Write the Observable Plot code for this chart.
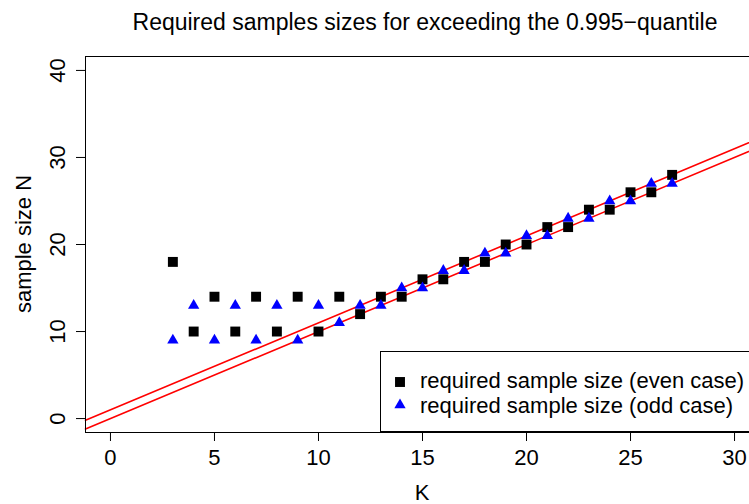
<!DOCTYPE html>
<html>
<head>
<meta charset="utf-8">
<script src="https://cdn.jsdelivr.net/npm/d3@7"></script>
<script src="https://cdn.jsdelivr.net/npm/@observablehq/plot@0.6"></script>
<style>
  html, body { margin: 0; padding: 0; background: #fff; }
  #chart { position: relative; width: 749px; height: 504px; overflow: hidden; }
  #chart svg { font-family: "Liberation Sans", Arial, Helvetica, sans-serif; max-width: none !important; }
</style>
</head>
<body>
<div id="chart"></div>
<script>
// ---- data ----
const K = [3,4,5,6,7,8,9,10,11,12,13,14,15,16,17,18,19,20,21,22,23,24,25,26,27];
const evenN = [18,10,14,10,14,10,14,10,14,12,14,14,16,16,18,18,20,20,22,22,24,24,26,26,28];
const oddN  = [9,13,9,13,9,13,9,13,11,13,13,15,15,17,17,19,19,21,21,23,23,25,25,27,27];
const lineIntercepts = [1, 0];
const lineSlope = 1;
const xTicks = [0,5,10,15,20,25,30];
const yTicks = [0,10,20,30,40];
const legendLabels = ["required sample size (even case)", "required sample size (odd case)"];
const titleText = "Required samples sizes for exceeding the 0.995\u2212quantile";
const xLabel = "K";
const yLabel = "sample size N";

// ---- tables ----
const xDomain = [-1.2, 31.2];
const yDomain = [-1.6, 41.6];
const evenData = K.map((k, i) => ({k, n: evenN[i]}));
const oddData = K.map((k, i) => ({k, n: oddN[i]}));
const lineData = lineIntercepts.flatMap((b, j) =>
  xDomain.map(x => ({x, y: b + lineSlope * x, id: j})));

const FONT = '"Liberation Sans", Arial, Helvetica, sans-serif';
const FS = 22;
const rSq = 5.6, rTri = 4.2;

const plot = Plot.plot({
  width: 759,
  height: 504,
  marginLeft: 85,
  marginRight: 0,
  marginTop: 56,
  marginBottom: 72,
  style: {fontFamily: FONT, fontSize: FS + "px", background: "white", maxWidth: "none"},
  x: {domain: xDomain},
  y: {domain: yDomain},
  marks: [
    Plot.line(lineData, {x: "x", y: "y", z: "id", stroke: "#ff0000", strokeWidth: 1.6}),
    Plot.dot(evenData, {x: "k", y: "n", symbol: "square", r: rSq, fill: "black", stroke: "none"}),
    Plot.dot(oddData, {x: "k", y: "n", symbol: "triangle", r: rTri, fill: "#0000ff", stroke: "none"}),
    Plot.frame({stroke: "black", strokeWidth: 1}),
    Plot.axisX({ticks: xTicks, tickSize: 9, tickPadding: 8, fontSize: FS, label: null, tickFormat: d => String(d), stroke: "black", fill: "black"}),
    Plot.axisY({ticks: yTicks, tickSize: 9, tickPadding: 0, fontSize: FS, label: null, tickFormat: () => "", stroke: "black"}),
    Plot.text(yTicks, {x: xDomain[0], y: d => d, text: d => String(d), rotate: -90, dx: -28, fontSize: FS, textAnchor: "middle", lineAnchor: "middle", fill: "black"})
  ]
});
plot.style.maxWidth = "none";
document.getElementById("chart").appendChild(plot);

const svg = d3.select(plot);
// Title
svg.append("text").attr("x", 425).attr("y", 30).attr("text-anchor", "middle")
  .attr("font-size", 23).attr("font-family", FONT).attr("fill", "black").text(titleText);
// Axis titles
svg.append("text").attr("x", 422).attr("y", 500).attr("text-anchor", "middle")
  .attr("font-size", FS).attr("font-family", FONT).attr("fill", "black").text(xLabel);
svg.append("text").attr("transform", "translate(31,244) rotate(-90)").attr("text-anchor", "middle")
  .attr("font-size", FS).attr("font-family", FONT).attr("fill", "black").text(yLabel);

// Legend
const lg = svg.append("g");
lg.append("rect").attr("x", 380.5).attr("y", 351.5).attr("width", 400).attr("height", 80)
  .attr("fill", "white").attr("stroke", "black").attr("stroke-width", 1);
const sq = d3.symbol(d3.symbolSquare, rSq * rSq * Math.PI);
const tri = d3.symbol(d3.symbolTriangle, rTri * rTri * Math.PI);
const symY = [382, 405];
const textY = [388, 413];
lg.append("path").attr("d", sq()).attr("transform", `translate(400,${symY[0]})`).attr("fill", "black");
lg.append("path").attr("d", tri()).attr("transform", `translate(400,${symY[1]})`).attr("fill", "#0000ff");
legendLabels.forEach((t, i) => {
  lg.append("text").attr("x", 420).attr("y", textY[i]).attr("text-anchor", "start")
    .attr("font-size", FS).attr("font-family", FONT).attr("fill", "black").text(t);
});
</script>
</body>
</html>
